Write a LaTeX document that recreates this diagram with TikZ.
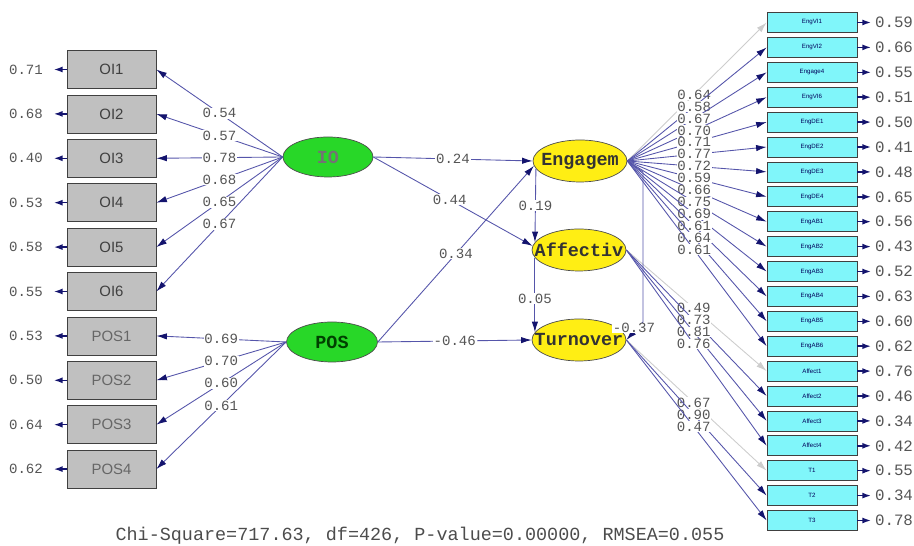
\documentclass[tikz,border=0pt]{standalone}
\usepackage{fontspec}
\setmainfont{Liberation Sans}
\setsansfont{Liberation Sans}
\setmonofont{Liberation Mono}
\usetikzlibrary{arrows.meta, positioning, shapes.geometric}
\definecolor{boxgray}{RGB}{192,192,192}
\definecolor{boxcyan}{RGB}{128,246,250}
\definecolor{latgreen}{RGB}{40,215,40}
\definecolor{latyellow}{RGB}{255,238,20}
\definecolor{pathblue}{RGB}{85,85,170}
\definecolor{tipblue}{RGB}{20,20,110}
\definecolor{fixgray}{RGB}{205,205,205}
\definecolor{numgray}{RGB}{85,85,85}

\begin{document}
\begin{tikzpicture}[x=0.02cm, y=-0.02cm,
  obsbox/.style={rectangle, draw=black!75, fill=boxgray, minimum width=1.78cm,
                 minimum height=0.76cm, font=\sffamily\fontsize{8.5}{10}\selectfont, text=black!75},
  itembox/.style={rectangle, draw=black!75, fill=boxcyan, minimum width=1.8cm,
                  minimum height=0.4cm, font=\sffamily\fontsize{3.5}{4}\selectfont, text=blue!35!black},
  latent/.style={ellipse, draw=black!70, minimum width=1.8cm, minimum height=0.8cm,
                 inner xsep=-7pt, inner ysep=0pt,
                 font=\ttfamily\bfseries\fontsize{10.5}{12}\selectfont},
  num/.style={font=\ttfamily\fontsize{8}{9}\selectfont, text=numgray, fill=white, inner sep=0.4pt},
  errnum/.style={font=\ttfamily\fontsize{8}{9}\selectfont, text=numgray, inner sep=1pt},
  arrow/.style={-{Latex[length=6pt,width=3.6pt,color=tipblue]}, draw=pathblue, line width=0.5pt},
  fixed/.style={-{Latex[length=6pt,width=3.6pt]}, draw=fixgray, line width=0.5pt},
  errarrow/.style={-{Latex[length=5pt,width=3.4pt]}, draw=tipblue, line width=0.9pt}
]
\useasboundingbox (0,0) rectangle (914,546);

% latent variables
\node[latent, fill=latgreen, text=black!55] (io) at (328,157) {IO};
\node[latent, fill=latgreen, text=green!25!black, minimum width=1.82cm] (pos) at (332,342) {POS};
\node[latent, fill=latyellow, text=black!80, minimum width=1.88cm, minimum height=0.84cm] (eng) at (580,161) {Engagem};
\node[latent, fill=latyellow, text=black!80, minimum width=1.88cm, minimum height=0.84cm] (aff) at (579,250) {Affectiv};
\node[latent, fill=latyellow, text=black!80, minimum width=1.88cm, minimum height=0.84cm] (tur) at (579,340) {Turnover};

% left indicators
\foreach \n/\lab/\y/\err/\ld in {oi1/OI1/69.5/0.71/0.54, oi2/OI2/113.9/0.68/0.57,
    oi3/OI3/158.3/0.40/0.78, oi4/OI4/202.7/0.53/0.68, oi5/OI5/247.1/0.58/0.65, oi6/OI6/291.5/0.55/0.67}{
  \node[obsbox] (\n) at (111.5,\y) {\lab};
  \node[errnum] (e\n) at (26,\y) {\err};
  \draw[errarrow] (\n.west) -- ([xshift=5pt]e\n.east);
  \draw[arrow] (io.west) -- node[num, pos=0.5] {\ld} (\n.east);
}
\foreach \n/\lab/\y/\err/\ld in {pos1/POS1/335.9/0.53/0.69, pos2/POS2/380.3/0.50/0.70,
    pos3/POS3/424.7/0.64/0.60, pos4/POS4/469.1/0.62/0.61}{
  \node[obsbox, text=black!60] (\n) at (111.5,\y) {\lab};
  \node[errnum] (e\n) at (26,\y) {\err};
  \draw[errarrow] (\n.west) -- ([xshift=5pt]e\n.east);
  \draw[arrow] (pos.west) -- node[num, pos=0.5] {\ld} (\n.east);
}

% right indicators
\foreach \lab/\err/\ld/\st [count=\i from 0] in {EngVI1/0.59/0.64/fixed, EngVI2/0.66/0.58/arrow,
    Engage4/0.55/0.67/arrow, EngVI6/0.51/0.70/arrow, EngDE1/0.50/0.71/arrow, EngDE2/0.41/0.77/arrow,
    EngDE3/0.48/0.72/arrow, EngDE4/0.65/0.59/arrow, EngAB1/0.56/0.66/arrow, EngAB2/0.43/0.75/arrow,
    EngAB3/0.52/0.69/arrow, EngAB4/0.63/0.61/arrow, EngAB5/0.60/0.64/arrow, EngAB6/0.62/0.61/arrow}{
  \node[itembox] (r\i) at (812,{22.5+24.9*\i}) {\lab};
  \node[errnum, font=\ttfamily\fontsize{9}{10}\selectfont] (er\i) at (894,{22.5+24.9*\i}) {\err};
  \draw[errarrow] (r\i.east) -- ([xshift=-1pt]er\i.west);
  \draw[\st] (eng.east) -- node[num, pos=0.48] {\ld} (r\i.west);
}
\foreach \lab/\err/\ld/\st [count=\i from 14] in {Affect1/0.76/0.49/fixed, Affect2/0.46/0.73/arrow,
    Affect3/0.34/0.81/arrow, Affect4/0.42/0.76/arrow}{
  \node[itembox] (r\i) at (812,{22.5+24.9*\i}) {\lab};
  \node[errnum, font=\ttfamily\fontsize{9}{10}\selectfont] (er\i) at (894,{22.5+24.9*\i}) {\err};
  \draw[errarrow] (r\i.east) -- ([xshift=-1pt]er\i.west);
  \draw[\st] (aff.east) -- node[num, pos=0.48] {\ld} (r\i.west);
}
\foreach \lab/\err/\ld/\st [count=\i from 18] in {T1/0.55/0.67/fixed, T2/0.34/0.90/arrow, T3/0.78/0.47/arrow}{
  \node[itembox] (r\i) at (812,{22.5+24.9*\i}) {\lab};
  \node[errnum, font=\ttfamily\fontsize{9}{10}\selectfont] (er\i) at (894,{22.5+24.9*\i}) {\err};
  \draw[errarrow] (r\i.east) -- ([xshift=-1pt]er\i.west);
  \draw[\st] (tur.east) -- node[num, pos=0.48] {\ld} (r\i.west);
}

% structural paths
\draw[arrow] (io.east) -- node[num] {0.24} (eng.west);
\draw[arrow] (io.east) -- node[num, pos=0.48] {0.44} (aff.175);
\draw[arrow] (pos.east) -- node[num, pos=0.5] {0.34} (eng.186);
\draw[arrow] (pos.east) -- node[num] {-0.46} (tur.west);
\draw[arrow] (eng.190) -- node[num, pos=0.5] {0.19} (aff.170);
\draw[arrow] (aff.190) -- node[num, pos=0.55] {0.05} (tur.170);
\coordinate (bendtop) at (643,172);
\coordinate (bendlow) at (643,322);
\draw[arrow] (eng.east) -- (bendtop) -- (bendlow) -- (tur.east);
\node[num] (ltur) at (634,328) {-0.37};

% fit statistics
\node[font=\ttfamily\fontsize{10.5}{12}\selectfont, text=black!70] (fit) at (420,536)
  {Chi-Square=717.63, df=426, P-value=0.00000, RMSEA=0.055};
\end{tikzpicture}
\end{document}
